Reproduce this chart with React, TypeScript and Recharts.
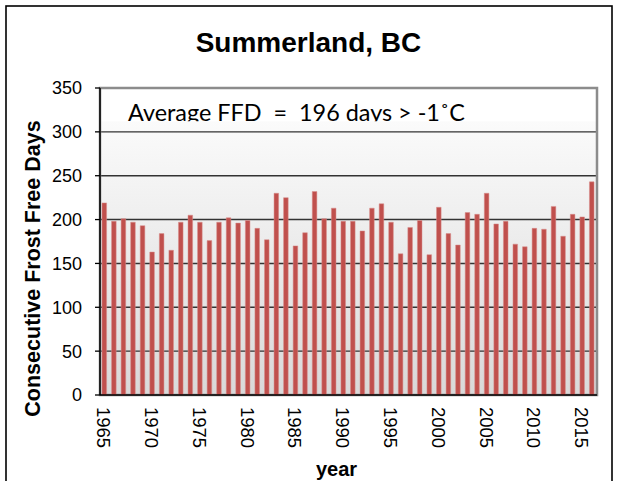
import React from 'react';
import {
  BarChart,
  Bar,
  XAxis,
  YAxis,
  CartesianGrid,
  ReferenceArea,
  Customized,
} from 'recharts';

const years = [
  1965, 1966, 1967, 1968, 1969, 1970, 1971, 1972, 1973, 1974, 1975, 1976, 1977,
  1978, 1979, 1980, 1981, 1982, 1983, 1984, 1985, 1986, 1987, 1988, 1989, 1990,
  1991, 1992, 1993, 1994, 1995, 1996, 1997, 1998, 1999, 2000, 2001, 2002, 2003,
  2004, 2005, 2006, 2007, 2008, 2009, 2010, 2011, 2012, 2013, 2014, 2015, 2016,
];

const frostFreeDays = [
  219, 198, 201, 197, 193, 163, 184, 165, 197, 205, 197, 176, 197,
  202, 196, 199, 190, 177, 230, 225, 170, 185, 232, 201, 213, 198,
  198, 187, 213, 218, 197, 161, 191, 199, 160, 214, 184, 171, 208,
  206, 230, 195, 198, 172, 169, 190, 189, 215, 181, 206, 203, 243,
];

const yTicks = [0, 50, 100, 150, 200, 250, 300, 350];

const titleText = 'Summerland, BC';
const averageText = 'Average FFD  =  196 days > -1\u02DAC';
const yLabelText = 'Consecutive Frost Free Days';
const xLabelText = 'year';

const data = years.map((y, i) => ({ year: String(y), days: frostFreeDays[i] }));

const SANS = '"Liberation Sans", Arial, sans-serif';

const XTick = (props: any) => {
  const { x, y, payload } = props;
  return (
    <text
      transform={`translate(${x - 7.5},${y + 12}) rotate(90)`}
      textAnchor="start"
      fontFamily={SANS}
      fontSize={18.5}
      fill="#000"
    >
      {payload.value}
    </text>
  );
};

const AverageLabel = (props: any) => {
  const vb = props.viewBox || {};
  const { x = 0, y = 0, width = 0, height = 0 } = vb;
  return (
    <g>
      <defs>
        <clipPath id="avgClip">
          <rect x={x} y={y} width={width} height={height} />
        </clipPath>
      </defs>
      <text
        x={x + 28}
        y={y + 33}
        fontFamily="Lato, 'Open Sans', sans-serif"
        fontSize={23.4}
        fill="#000"
        clipPath="url(#avgClip)"
        style={{ whiteSpace: 'pre' }}
      >
        {averageText}
      </text>
    </g>
  );
};

const YLabel = (props: any) => {
  const vb = props.viewBox || {};
  const { x = 0, y = 0, height = 0 } = vb;
  const cx = x + 39.5;
  const cy = y + height / 2 + 27;
  return (
    <text
      transform={`translate(${cx},${cy}) rotate(-90)`}
      textAnchor="middle"
      fontFamily={SANS}
      fontWeight="bold"
      fontSize={21.5}
      fill="#000"
    >
      {yLabelText}
    </text>
  );
};

const XLabel = (props: any) => {
  const vb = props.viewBox || {};
  const { x = 0, y = 0, width = 0 } = vb;
  return (
    <text
      x={x + width / 2 - 12}
      y={y + 81}
      textAnchor="middle"
      fontFamily={SANS}
      fontWeight="bold"
      fontSize={20}
      fill="#000"
    >
      {xLabelText}
    </text>
  );
};

const Decor = () => (
  <g>
    <rect x={6} y={6} width={606} height={520} fill="none" stroke="#000" strokeWidth={1.6} />
    <text
      x={308.5}
      y={51.5}
      textAnchor="middle"
      fontFamily={SANS}
      fontWeight="bold"
      fontSize={28}
      fill="#000"
    >
      {titleText}
    </text>
  </g>
);

export default function App() {
  return (
    <div style={{ position: 'absolute', left: 0, top: 0, width: 617, height: 481, background: '#fff' }}>
      <BarChart
        width={617}
        height={481}
        data={data}
        margin={{ top: 88, right: 20, bottom: 0, left: 0 }}
        barSize={4.6}
      >
        <defs>
          <linearGradient id="plotBg" x1="0" y1="0" x2="0" y2="1">
            <stop offset="0%" stopColor="#ffffff" />
            <stop offset="100%" stopColor="#d9d9d9" />
          </linearGradient>
        </defs>
        <Customized component={Decor} />
        <CartesianGrid
          vertical={false}
          fill="url(#plotBg)"
          stroke="#333333"
          strokeWidth={1.4}
        />
        <ReferenceArea
          y1={312}
          y2={350}
          fill="#ffffff"
          fillOpacity={1}
          stroke="none"
          label={<AverageLabel />}
        />
        <ReferenceArea
          y1={0}
          y2={350}
          fill="none"
          stroke="#8c8c8c"
          strokeWidth={2.5}
        />
        <XAxis
          dataKey="year"
          interval={4}
          tickLine={false}
          tickSize={0}
          tickMargin={0}
          axisLine={{ stroke: '#000', strokeWidth: 1.5 }}
          height={86}
          tick={<XTick />}
          label={<XLabel />}
        />
        <YAxis
          domain={[0, 350]}
          ticks={yTicks}
          width={100}
          tickSize={5}
          tickMargin={13}
          axisLine={{ stroke: '#000', strokeWidth: 1.5 }}
          tickLine={{ stroke: '#000', strokeWidth: 1.3 }}
          tick={{ fontSize: 18, fill: '#000', fontFamily: SANS }}
          label={<YLabel />}
        />
        <Bar
          dataKey="days"
          fill="#c0504d"
          stroke="#d88e8c"
          strokeWidth={0.5}
          isAnimationActive={false}
        />
      </BarChart>
    </div>
  );
}
